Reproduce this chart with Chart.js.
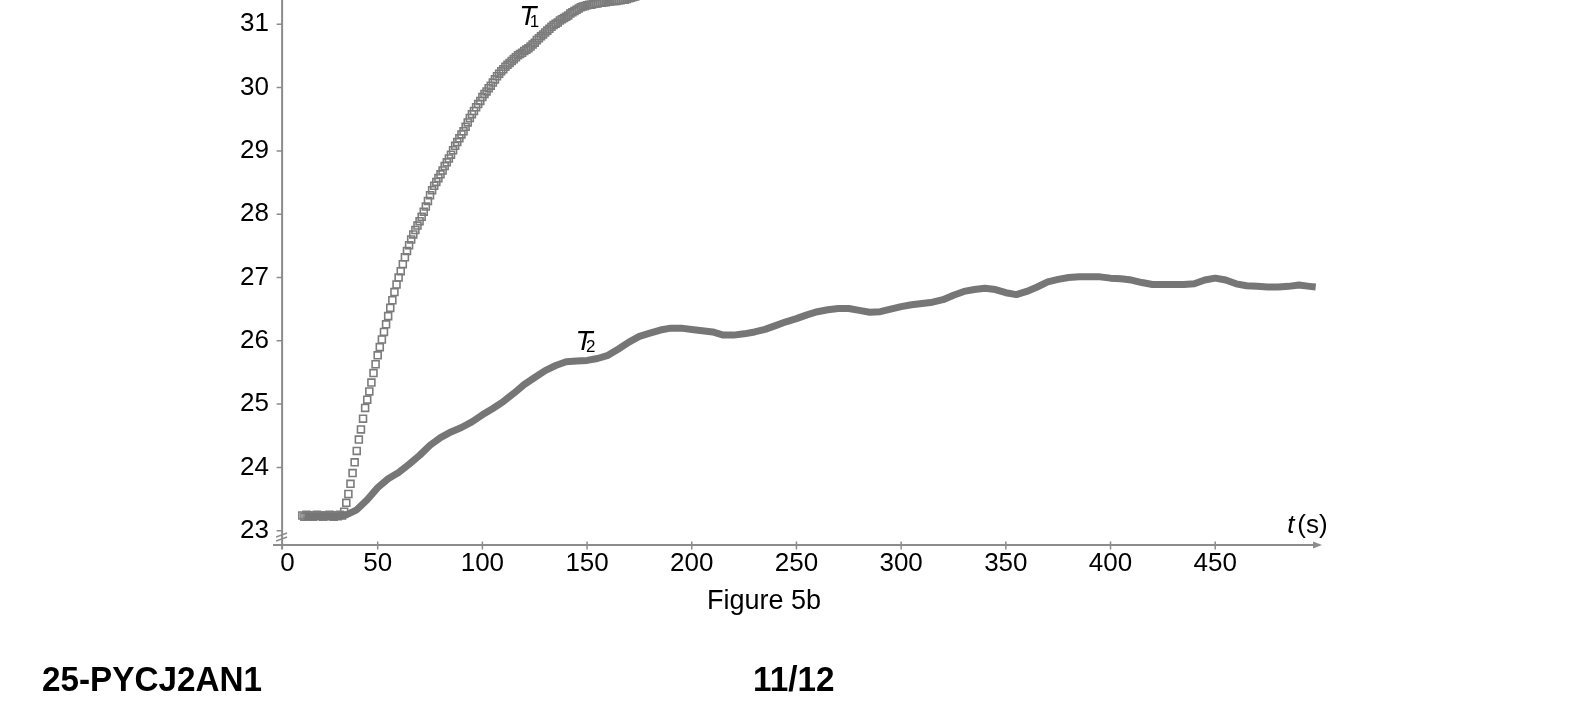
<!DOCTYPE html>
<html>
<head>
<meta charset="utf-8">
<title>Figure 5b</title>
<script src="https://cdn.jsdelivr.net/npm/chart.js@4.4.1/dist/chart.umd.min.js"></script>
<style>
  html, body { margin: 0; padding: 0; background: #fff; }
  #wrap { position: relative; width: 1579px; height: 724px; overflow: hidden; background: #fff; }
  #myChart { position: absolute; left: 0; top: 0; }
  .txt { position: absolute; font-family: "Liberation Sans", Arial, sans-serif; color: #000; white-space: nowrap; line-height: 1; }
</style>
</head>
<body>
<div id="wrap">
  <canvas id="myChart" width="1579" height="724"></canvas>
  <div class="txt" style="left:707px; top:587px; font-size:27px;">Figure 5b</div>
  <div class="txt" style="left:42px; top:661px; font-size:35px; font-weight:bold; transform:scaleX(0.95); transform-origin:left top;">25-PYCJ2AN1</div>
  <div class="txt" style="left:753px; top:661px; font-size:35px; font-weight:bold; transform:scaleX(0.95); transform-origin:left top;">11/12</div>
</div>
<script>
// tick labels
const xTicks = [0, 50, 100, 150, 200, 250, 300, 350, 400, 450];
const yTicks = [23, 24, 25, 26, 27, 28, 29, 30, 31];
// the vertical axis of the original crosses the time axis a little after t = 0
const yAxisAt = 4.35;

// T1 (open squares), one reading per second
const t1Times = [
  14, 15, 16, 17, 18, 19, 20, 21, 22, 23,
  24, 25, 26, 27, 28, 29, 30, 31, 32, 33,
  34, 35, 36, 37, 38, 39, 40, 41, 42, 43,
  44, 45, 46, 47, 48, 49, 50, 51, 52, 53,
  54, 55, 56, 57, 58, 59, 60, 61, 62, 63,
  64, 65, 66, 67, 68, 69, 70, 71, 72, 73,
  74, 75, 76, 77, 78, 79, 80, 81, 82, 83,
  84, 85, 86, 87, 88, 89, 90, 91, 92, 93,
  94, 95, 96, 97, 98, 99, 100, 101, 102, 103,
  104, 105, 106, 107, 108, 109, 110, 111, 112, 113,
  114, 115, 116, 117, 118, 119, 120, 121, 122, 123,
  124, 125, 126, 127, 128, 129, 130, 131, 132, 133,
  134, 135, 136, 137, 138, 139, 140, 141, 142, 143,
  144, 145, 146, 147, 148, 149, 150, 151, 152, 153,
  154, 155, 156, 157, 158, 159, 160, 161, 162, 163,
  164, 165, 166, 167, 168, 169, 170, 171, 172, 173,
  174
];
const t1Values = [
  23.24, 23.22, 23.25, 23.23, 23.24, 23.22, 23.24, 23.25, 23.23, 23.24,
  23.22, 23.24, 23.23, 23.25, 23.24, 23.22, 23.24, 23.23, 23.25, 23.24,
  23.30, 23.44, 23.58, 23.74, 23.91, 24.08, 24.26, 24.44, 24.60, 24.77,
  24.94, 25.07, 25.20, 25.34, 25.49, 25.63, 25.77, 25.90, 26.02, 26.14,
  26.26, 26.39, 26.52, 26.64, 26.77, 26.89, 27.00, 27.10, 27.21, 27.32,
  27.42, 27.51, 27.60, 27.68, 27.75, 27.82, 27.89, 27.96, 28.04, 28.12,
  28.21, 28.30, 28.38, 28.45, 28.51, 28.57, 28.63, 28.69, 28.76, 28.82,
  28.88, 28.94, 29.01, 29.08, 29.14, 29.20, 29.26, 29.31, 29.38, 29.45,
  29.52, 29.58, 29.63, 29.69, 29.74, 29.79, 29.85, 29.90, 29.94, 29.99,
  30.03, 30.08, 30.13, 30.18, 30.22, 30.26, 30.29, 30.33, 30.36, 30.39,
  30.42, 30.45, 30.48, 30.51, 30.53, 30.55, 30.58, 30.60, 30.62, 30.65,
  30.68, 30.71, 30.75, 30.78, 30.81, 30.84, 30.87, 30.90, 30.93, 30.96,
  30.99, 31.01, 31.03, 31.06, 31.08, 31.10, 31.12, 31.14, 31.17, 31.19,
  31.21, 31.23, 31.25, 31.27, 31.28, 31.29, 31.30, 31.31, 31.31, 31.32,
  31.33, 31.33, 31.34, 31.34, 31.35, 31.35, 31.36, 31.36, 31.37, 31.37,
  31.37, 31.38, 31.38, 31.39, 31.39, 31.40, 31.41, 31.42, 31.43, 31.44,
  31.45
];

// T2 (thick band), read every 5 s
const t2Times = [
  15, 20, 25, 30, 35, 40, 45, 50, 55, 60,
  65, 70, 75, 80, 85, 90, 95, 100, 105, 110,
  115, 120, 125, 130, 135, 140, 145, 150, 155, 160,
  165, 170, 175, 180, 185, 190, 195, 200, 205, 210,
  215, 220, 225, 230, 235, 240, 245, 250, 255, 260,
  265, 270, 275, 280, 285, 290, 295, 300, 305, 310,
  315, 320, 325, 330, 335, 340, 345, 350, 355, 360,
  365, 370, 375, 380, 385, 390, 395, 400, 405, 410,
  415, 420, 425, 430, 435, 440, 445, 450, 455, 460,
  465, 470, 475, 480, 485, 490, 495, 498
];
const t2Values = [
  23.23, 23.22, 23.23, 23.22, 23.25, 23.33, 23.49, 23.68, 23.82, 23.92,
  24.05, 24.19, 24.35, 24.47, 24.56, 24.63, 24.72, 24.83, 24.93, 25.04,
  25.17, 25.31, 25.42, 25.53, 25.61, 25.67, 25.68, 25.69, 25.72, 25.77,
  25.87, 25.98, 26.07, 26.12, 26.17, 26.20, 26.20, 26.18, 26.16, 26.14,
  26.09, 26.09, 26.11, 26.14, 26.18, 26.24, 26.30, 26.35, 26.41, 26.46,
  26.49, 26.51, 26.51, 26.48, 26.45, 26.46, 26.50, 26.54, 26.57, 26.59,
  26.61, 26.65, 26.72, 26.78, 26.81, 26.83, 26.81, 26.76, 26.73, 26.78,
  26.85, 26.93, 26.97, 27.00, 27.01, 27.01, 27.01, 26.99, 26.98, 26.96,
  26.92, 26.89, 26.89, 26.89, 26.89, 26.90, 26.96, 26.99, 26.96, 26.90,
  26.87, 26.86, 26.85, 26.85, 26.86, 26.88, 26.86, 26.85
];

const axisColor = "#8c8c8c";
const markColor = "#767676";
const fontFamily = "'Liberation Sans', Arial, sans-serif";

const ctx = document.querySelector("#myChart").getContext("2d");

const data = {
  datasets: [
    {
      label: "T2",
      data: t2Times.map((t, i) => ({ x: t, y: t2Values[i] })),
      showLine: true,
      borderColor: markColor,
      borderWidth: 7,
      borderJoinStyle: "round",
      pointRadius: 0,
      pointHoverRadius: 0,
      fill: false,
    },
    {
      label: "T1",
      data: t1Times.map((t, i) => ({ x: t, y: t1Values[i] })),
      showLine: false,
      pointStyle: "rect",
      pointRadius: 4.9,
      pointHoverRadius: 4.9,
      pointBorderWidth: 1.6,
      pointBorderColor: "#7c7c7c",
      pointBackgroundColor: "rgba(255,255,255,0)",
    },
  ],
};

// axes, arrow, break mark and curve names
const axesPlugin = {
  id: "axesPlugin",
  afterDatasetsDraw(chart) {
    const { ctx, chartArea, scales } = chart;
    const x = scales.x;
    const y = scales.y;
    const xa = x.getPixelForValue(yAxisAt);
    const yb = chartArea.bottom;

    ctx.save();
    ctx.strokeStyle = axisColor;
    ctx.fillStyle = axisColor;
    ctx.lineWidth = 2;

    ctx.beginPath();
    ctx.moveTo(xa, chartArea.top);
    ctx.lineTo(xa, yb + 4.5);
    ctx.moveTo(chartArea.left, yb);
    ctx.lineTo(chartArea.right - 6, yb);
    ctx.stroke();

    // arrow head
    ctx.beginPath();
    ctx.moveTo(chartArea.right, yb);
    ctx.lineTo(chartArea.right - 9, yb - 3.5);
    ctx.lineTo(chartArea.right - 9, yb + 3.5);
    ctx.closePath();
    ctx.fill();

    ctx.lineWidth = 1.5;
    ctx.beginPath();
    xTicks.forEach((v) => {
      if (v === 0) return;
      const px = x.getPixelForValue(v);
      ctx.moveTo(px, yb - 3.5);
      ctx.lineTo(px, yb + 4.5);
    });
    yTicks.forEach((v) => {
      const py = y.getPixelForValue(v);
      ctx.moveTo(xa - 5.5, py);
      ctx.lineTo(xa, py);
    });
    ctx.stroke();

    // axis break
    ctx.beginPath();
    ctx.moveTo(xa - 6, yb - 8);
    ctx.lineTo(xa + 5, yb - 12);
    ctx.moveTo(xa - 6, yb - 4);
    ctx.lineTo(xa + 5, yb - 8);
    ctx.stroke();

    // curve names
    ctx.fillStyle = "#000";
    ctx.textBaseline = "alphabetic";
    ctx.textAlign = "left";
    const names = [
      { main: "T", sub: "1", t: 117.6, v: 30.99 },
      { main: "T", sub: "2", t: 144.5, v: 25.855 },
    ];
    names.forEach((n) => {
      const px = x.getPixelForValue(n.t);
      const py = y.getPixelForValue(n.v);
      ctx.font = "italic 28px " + fontFamily;
      ctx.fillText(n.main, px, py);
      ctx.font = "17px " + fontFamily;
      ctx.fillText(n.sub, px + 10.5, py + 2.5);
    });

    // axis title
    const tx = x.getPixelForValue(484.4);
    const ty = y.getPixelForValue(22.964);
    ctx.font = "italic 26px " + fontFamily;
    ctx.fillText("t", tx, ty);
    ctx.font = "26px " + fontFamily;
    ctx.fillText("(s)", tx + 10, ty);
    ctx.restore();
  },
};

const tickFont = { family: fontFamily, size: 26 };

const config = {
  type: "scatter",
  data: data,
  options: {
    responsive: false,
    animation: false,
    devicePixelRatio: 1,
    layout: { autoPadding: false, padding: { left: 0, right: 257, top: 0, bottom: 0 } },
    plugins: {
      legend: { display: false },
      tooltip: { enabled: false },
    },
    scales: {
      x: {
        type: "linear",
        min: 0,
        max: 501,
        afterBuildTicks: (scale) => {
          scale.ticks = xTicks.map((v) => ({ value: v }));
        },
        afterFit: (scale) => {
          scale.height = 179;
          scale.paddingLeft = 0;
          scale.paddingRight = 0;
        },
        grid: { display: false, drawTicks: false },
        border: { display: false },
        ticks: {
          color: "#000",
          font: tickFont,
          padding: 3,
          maxRotation: 0,
          autoSkip: false,
          // the origin label sits just right of the vertical axis
          callback: (value) => (value === 0 ? "\u2007\u2007" + value : String(value)),
        },
      },
      y: {
        type: "linear",
        min: 22.774,
        max: 31.384,
        afterBuildTicks: (scale) => {
          scale.ticks = yTicks.map((v) => ({ value: v }));
        },
        afterFit: (scale) => {
          scale.width = 273;
          scale.paddingTop = 0;
          scale.paddingBottom = 0;
        },
        grid: { display: false, drawTicks: false },
        border: { display: false },
        ticks: { color: "#000", font: tickFont, padding: 4, autoSkip: false },
      },
    },
  },
  plugins: [axesPlugin],
};

const myChart = new Chart(ctx, config);
</script>
</body>
</html>
